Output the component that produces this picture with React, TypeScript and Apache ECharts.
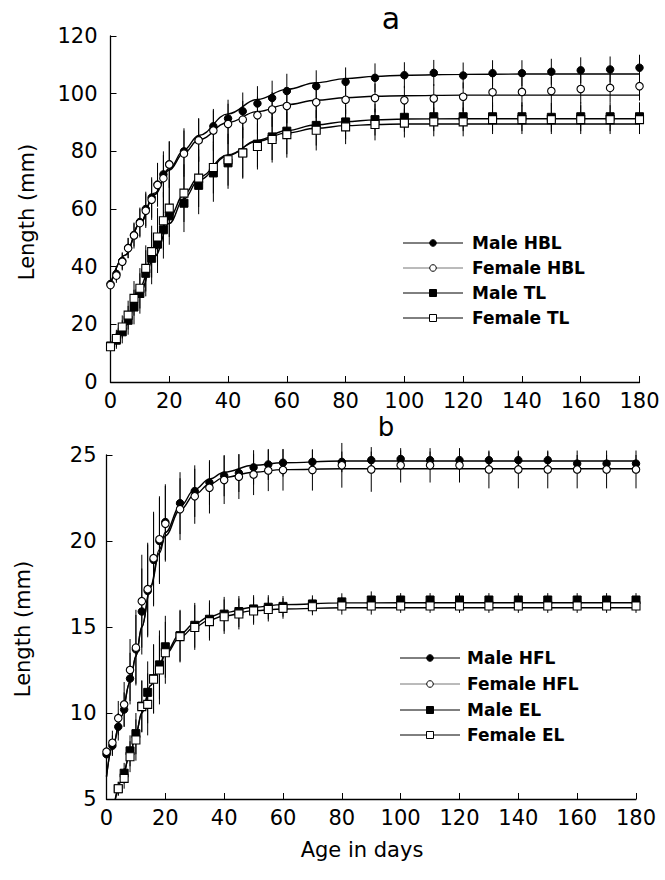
import React, { useEffect, useRef } from "react";
import * as echarts from "echarts";

// ---------- Panel a : head-body length (HBL) and tail length (TL) ----------
const DAYS_A = [0, 2, 4, 6, 8, 10, 12, 14, 16, 18, 20, 25, 30, 35, 40, 45, 50, 55, 60, 70, 80, 90, 100, 110, 120, 130, 140, 150, 160, 170, 180];
const MALE_HBL = [34, 37.5, 42, 46.5, 51, 55.5, 60, 64, 68.5, 72, 75.5, 80, 84, 88.7, 91.4, 93.9, 96.6, 98.5, 100.9, 102.6, 104.1, 105.5, 106.4, 107.2, 106.3, 107.1, 107.1, 107.6, 108.1, 108.4, 109];
const FEMALE_HBL = [33.6, 36.9, 41.7, 46.4, 50.8, 55.1, 59.4, 63.2, 68.3, 70.7, 75.4, 79.2, 83.8, 87.2, 89.5, 91.0, 92.5, 94.5, 95.7, 97.0, 97.9, 98.5, 97.7, 98.3, 98.9, 100.5, 100.6, 100.9, 101.6, 102, 102.6];
const MALE_TL = [12.5, 14.5, 17.4, 21.4, 26, 30.7, 37.7, 42.9, 47.8, 52.8, 57.6, 62, 68.2, 72.5, 76, 79.5, 82.5, 85, 87, 89, 90.2, 91, 91.8, 92, 92, 92, 92, 91.8, 92, 92, 92];
const FEMALE_TL = [12.2, 15.1, 19.1, 23.2, 29, 32.5, 39.4, 45.2, 50.3, 55.9, 60.3, 65.5, 70.7, 74.4, 77.1, 79.4, 81.7, 84.1, 85.8, 87.3, 88.5, 89.3, 89.8, 90.2, 90.2, 91, 91, 91, 91, 91, 91];
const SD_MALE_HBL = [2, 2.5, 3, 3.5, 4, 5, 6, 7, 7.5, 8, 8, 8, 7.5, 6, 6.5, 6.5, 6, 6, 6, 5.5, 5, 5, 4.5, 4.5, 4.5, 4.5, 4.5, 4.5, 4.5, 4.5, 4.5];
const SD_FEMALE_HBL = [2, 2.5, 3, 3.5, 4.5, 5, 6, 7, 7.5, 8, 8, 8, 7.5, 7, 7, 6.5, 6.5, 6, 6, 5.5, 5, 5, 5, 5, 5, 5, 5, 5, 5, 5, 5];
const SD_MALE_TL = [2, 3, 4, 5, 6, 7, 8, 9, 10, 10, 10, 10, 10, 10, 9, 9, 8, 8, 8, 7, 6, 5.5, 5, 5, 5, 5, 5, 5, 5, 5, 5];
const SD_FEMALE_TL = [2, 3, 4, 5, 6, 7, 8, 9, 10, 10, 10, 10, 10, 9, 9, 8.5, 8, 8, 8, 7, 6, 5.5, 5, 5, 5, 5, 5, 5, 5, 5, 5];

const FIT_DAYS_A = [0, 5, 10, 15, 20, 25, 30, 40, 50, 60, 70, 80, 90, 100, 120, 140, 160, 180];
const FIT_MALE_HBL = [34, 44, 55, 65.5, 74, 80.5, 85.5, 93, 98, 101.5, 103.8, 105.2, 106, 106.4, 106.7, 106.8, 106.8, 106.8];
const FIT_FEMALE_HBL = [34, 44, 55, 65, 73.5, 79.5, 84, 90, 93.8, 96.2, 97.7, 98.6, 99.1, 99.3, 99.5, 99.5, 99.5, 99.5];
const FIT_MALE_TL = [12, 19.5, 31, 43.5, 55, 63.5, 70, 78.5, 83.8, 87.2, 89.2, 90.3, 90.9, 91.2, 91.3, 91.3, 91.3, 91.3];
const FIT_FEMALE_TL = [12, 20.5, 33, 46, 57, 65, 71, 78.8, 83.5, 86.4, 88, 88.9, 89.3, 89.5, 89.5, 89.5, 89.5, 89.5];

// ---------- Panel b : hind-foot length (HFL) and ear length (EL) ----------
const DAYS_B_HFL = [0, 2, 4, 6, 8, 10, 12, 14, 16, 18, 20, 25, 30, 35, 40, 45, 50, 55, 60, 70, 80, 90, 100, 110, 120, 130, 140, 150, 160, 170, 180];
const MALE_HFL = [7.6, 8.1, 9.2, 10.2, 12.0, 13.7, 15.9, 17.1, 18.9, 20.0, 21.1, 22.2, 22.9, 23.4, 23.8, 23.95, 24.28, 24.45, 24.55, 24.6, 24.6, 24.7, 24.77, 24.7, 24.7, 24.7, 24.7, 24.7, 24.5, 24.5, 24.5];
const FEMALE_HFL = [7.75, 8.27, 9.7, 10.5, 12.5, 13.8, 16.5, 17.2, 19.0, 20.1, 21.0, 21.85, 22.6, 23.1, 23.55, 23.74, 23.87, 24.1, 24.13, 24.13, 24.4, 24.16, 24.4, 24.4, 24.4, 24.16, 24.16, 24.16, 24.16, 24.16, 24.16];
const SD_MALE_HFL = [0.5, 0.6, 0.8, 1.0, 1.5, 2, 2.5, 2.7, 2.7, 2.5, 2.2, 1.8, 1.5, 1.3, 1.2, 1.1, 1.0, 0.9, 0.8, 0.7, 0.6, 0.5, 0.5, 0.5, 0.5, 0.5, 0.5, 0.5, 0.5, 0.5, 0.5];
const SD_FEMALE_HFL = [0.5, 0.7, 1.0, 1.3, 1.8, 2.2, 2.7, 2.7, 2.7, 2.5, 2.2, 1.8, 1.6, 1.5, 1.4, 1.3, 1.2, 1.2, 1.2, 1.2, 1.3, 1.3, 1.0, 1.0, 1.0, 1.1, 1.1, 1.1, 1.1, 1.1, 1.1];

const DAYS_B_EL = [4, 6, 8, 10, 12, 14, 16, 18, 20, 25, 30, 35, 40, 45, 50, 55, 60, 70, 80, 90, 100, 110, 120, 130, 140, 150, 160, 170, 180];
const MALE_EL = [5.6, 6.5, 7.8, 8.8, 10.4, 11.2, 12.0, 12.8, 13.85, 14.5, 15.1, 15.45, 15.75, 15.9, 16.05, 16.15, 16.2, 16.34, 16.46, 16.57, 16.57, 16.57, 16.57, 16.57, 16.57, 16.57, 16.57, 16.57, 16.57];
const FEMALE_EL = [5.6, 6.2, 7.46, 8.43, 10.37, 10.5, 11.96, 12.5, 13.5, 14.44, 14.97, 15.31, 15.6, 15.76, 15.93, 16.02, 16.08, 16.18, 16.22, 16.22, 16.22, 16.22, 16.22, 16.22, 16.22, 16.22, 16.22, 16.22, 16.22];
const SD_MALE_EL = [0.4, 0.6, 0.9, 1.2, 1.5, 1.8, 2.0, 2.0, 1.8, 1.5, 1.3, 1.1, 1.0, 0.9, 0.8, 0.7, 0.6, 0.5, 0.5, 0.5, 0.4, 0.4, 0.4, 0.4, 0.4, 0.4, 0.4, 0.4, 0.4];
const SD_FEMALE_EL = [0.4, 0.6, 0.9, 1.2, 1.5, 1.8, 2.0, 2.0, 1.8, 1.5, 1.3, 1.1, 1.0, 0.9, 0.8, 0.7, 0.6, 0.5, 0.5, 0.5, 0.4, 0.4, 0.4, 0.4, 0.4, 0.4, 0.4, 0.4, 0.4];

const FIT_DAYS_B_HFL = [0, 2, 5, 8, 10, 12, 15, 18, 20, 25, 30, 35, 40, 50, 60, 80, 100, 180];
const FIT_MALE_HFL = [6.3, 8.0, 9.8, 11.8, 13.3, 15.0, 17.4, 19.5, 20.5, 22.0, 23.0, 23.6, 24.0, 24.4, 24.55, 24.65, 24.65, 24.65];
const FIT_FEMALE_HFL = [6.3, 8.0, 9.8, 11.8, 13.3, 15.0, 17.3, 19.3, 20.3, 21.8, 22.7, 23.3, 23.7, 24.0, 24.15, 24.2, 24.2, 24.2];
const FIT_DAYS_B_EL = [3, 5, 8, 10, 12, 15, 18, 20, 25, 30, 35, 40, 50, 60, 80, 100, 180];
const FIT_MALE_EL = [5.0, 6.0, 7.6, 8.8, 10.0, 11.6, 12.8, 13.5, 14.6, 15.2, 15.6, 15.85, 16.15, 16.3, 16.4, 16.41, 16.41];
const FIT_FEMALE_EL = [5.0, 6.0, 7.6, 8.8, 10.0, 11.6, 12.7, 13.4, 14.4, 15.0, 15.4, 15.65, 15.95, 16.05, 16.12, 16.12, 16.12];

const LEGEND_A = ["Male HBL", "Female HBL", "Male TL", "Female TL"];
const LEGEND_B = ["Male HFL", "Female HFL", "Male EL", "Female EL"];
const X_TICKS = { min: 0, max: 180, interval: 20 };
const Y_TICKS_A = { min: 0, max: 120, interval: 20 };
const Y_TICKS_B = { min: 5, max: 25, interval: 5 };

const FONT = "'DejaVu Sans', 'Liberation Sans', sans-serif";

const pairs = (xs: number[], ys: number[]) => xs.map((x, i) => [x, ys[i]]);
const bars = (xs: number[], ys: number[], sd: number[]) => xs.map((x, i) => [x, ys[i] - sd[i], ys[i] + sd[i]]);

function errorSeries(idx: number, data: number[][]) {
  return {
    type: "custom",
    xAxisIndex: idx,
    yAxisIndex: idx,
    silent: true,
    z: 1,
    data,
    encode: { x: 0, y: [1, 2] },
    renderItem: (params: any, api: any) => {
      const x = api.value(0);
      const p1 = api.coord([x, api.value(1)]);
      const p2 = api.coord([x, api.value(2)]);
      return {
        type: "line",
        shape: { x1: p1[0], y1: p1[1], x2: p2[0], y2: p2[1] },
        style: { stroke: "#000", lineWidth: 1 },
      };
    },
  };
}

function fitSeries(idx: number, data: number[][]) {
  return {
    type: "line",
    xAxisIndex: idx,
    yAxisIndex: idx,
    smooth: 0.4,
    smoothMonotone: "x",
    symbol: "none",
    showSymbol: false,
    silent: true,
    z: 2,
    lineStyle: { color: "#000", width: 1.4 },
    data,
  };
}

function pointSeries(idx: number, name: string, data: number[][], shape: string, filled: boolean, z: number) {
  return {
    type: "scatter",
    name,
    xAxisIndex: idx,
    yAxisIndex: idx,
    symbol: shape,
    symbolSize: shape === "rect" ? 8 : 7.5,
    z,
    silent: true,
    itemStyle: filled
      ? { color: "#000", borderColor: "#000", borderWidth: 1, opacity: 1 }
      : { color: "#fff", borderColor: "#000", borderWidth: 1.1, opacity: 1 },
    data,
  };
}

function legendGraphics(names: string[], rows: number[], x0: number, x1: number, xm: number, xt: number) {
  const shapes = [
    { kind: "circle", filled: true },
    { kind: "circle", filled: false },
    { kind: "rect", filled: true },
    { kind: "rect", filled: false },
  ];
  const els: any[] = [];
  names.forEach((n, i) => {
    const y = rows[i];
    els.push({ type: "line", shape: { x1: x0, y1: y, x2: x1, y2: y }, style: { stroke: i === 1 ? "#777" : "#000", lineWidth: 1 }, z: 10 });
    const fill = shapes[i].filled ? "#000" : "#fff";
    if (shapes[i].kind === "circle") {
      els.push({ type: "circle", shape: { cx: xm, cy: y, r: 3.3 }, style: { fill, stroke: "#000", lineWidth: 1 }, z: 11 });
    } else {
      els.push({ type: "rect", shape: { x: xm - 3.5, y: y - 3.5, width: 7, height: 7 }, style: { fill, stroke: "#000", lineWidth: 1 }, z: 11 });
    }
    els.push({
      type: "text",
      x: xt,
      y,
      style: { text: n, fill: "#000", font: `bold 17px ${FONT}`, textAlign: "left", textVerticalAlign: "middle" },
      z: 11,
    });
  });
  return els;
}

function xAxisDef(idx: number) {
  return {
    type: "value",
    gridIndex: idx,
    ...X_TICKS,
    axisLine: { show: true, lineStyle: { color: "#000", width: 1.3 } },
    axisTick: { show: true, inside: true, length: 6, lineStyle: { color: "#000", width: 1 } },
    axisLabel: { show: true, color: "#000", fontSize: 21, fontFamily: FONT, margin: 8 },
    splitLine: { show: false },
  };
}

function yAxisDef(idx: number, ticks: any, margin: number) {
  return {
    type: "value",
    gridIndex: idx,
    ...ticks,
    axisLine: { show: true, lineStyle: { color: "#000", width: 1.3 } },
    axisTick: { show: true, inside: true, length: 6, lineStyle: { color: "#000", width: 1 } },
    axisLabel: { show: true, color: "#000", fontSize: 21, fontFamily: FONT, margin },
    splitLine: { show: false },
  };
}

export default function App() {
  const ref = useRef<HTMLDivElement>(null);
  useEffect(() => {
    if (!ref.current) return;
    const chart = echarts.init(ref.current, undefined, { renderer: "svg" });
    const option: any = {
      animation: false,
      backgroundColor: "#fff",
      grid: [
        { left: 110.5, top: 36, width: 529, height: 346 },
        { left: 106.5, top: 455, width: 529.5, height: 344 },
      ],
      xAxis: [xAxisDef(0), xAxisDef(1)],
      yAxis: [yAxisDef(0, Y_TICKS_A, 13), yAxisDef(1, Y_TICKS_B, 10)],
      series: [
        errorSeries(0, bars(DAYS_A, MALE_HBL, SD_MALE_HBL)),
        errorSeries(0, bars(DAYS_A, FEMALE_HBL, SD_FEMALE_HBL)),
        errorSeries(0, bars(DAYS_A, MALE_TL, SD_MALE_TL)),
        errorSeries(0, bars(DAYS_A, FEMALE_TL, SD_FEMALE_TL)),
        fitSeries(0, pairs(FIT_DAYS_A, FIT_MALE_HBL)),
        fitSeries(0, pairs(FIT_DAYS_A, FIT_FEMALE_HBL)),
        fitSeries(0, pairs(FIT_DAYS_A, FIT_MALE_TL)),
        fitSeries(0, pairs(FIT_DAYS_A, FIT_FEMALE_TL)),
        pointSeries(0, LEGEND_A[0], pairs(DAYS_A, MALE_HBL), "circle", true, 3),
        pointSeries(0, LEGEND_A[2], pairs(DAYS_A, MALE_TL), "rect", true, 3),
        pointSeries(0, LEGEND_A[1], pairs(DAYS_A, FEMALE_HBL), "circle", false, 4),
        pointSeries(0, LEGEND_A[3], pairs(DAYS_A, FEMALE_TL), "rect", false, 4),

        errorSeries(1, bars(DAYS_B_HFL, MALE_HFL, SD_MALE_HFL)),
        errorSeries(1, bars(DAYS_B_HFL, FEMALE_HFL, SD_FEMALE_HFL)),
        errorSeries(1, bars(DAYS_B_EL, MALE_EL, SD_MALE_EL)),
        errorSeries(1, bars(DAYS_B_EL, FEMALE_EL, SD_FEMALE_EL)),
        fitSeries(1, pairs(FIT_DAYS_B_HFL, FIT_MALE_HFL)),
        fitSeries(1, pairs(FIT_DAYS_B_HFL, FIT_FEMALE_HFL)),
        fitSeries(1, pairs(FIT_DAYS_B_EL, FIT_MALE_EL)),
        fitSeries(1, pairs(FIT_DAYS_B_EL, FIT_FEMALE_EL)),
        pointSeries(1, LEGEND_B[0], pairs(DAYS_B_HFL, MALE_HFL), "circle", true, 3),
        pointSeries(1, LEGEND_B[2], pairs(DAYS_B_EL, MALE_EL), "rect", true, 3),
        pointSeries(1, LEGEND_B[1], pairs(DAYS_B_HFL, FEMALE_HFL), "circle", false, 4),
        pointSeries(1, LEGEND_B[3], pairs(DAYS_B_EL, FEMALE_EL), "rect", false, 4),
      ],
      graphic: [
        { type: "text", x: 391, y: 18, style: { text: "a", fill: "#000", font: `30px ${FONT}`, textAlign: "center", textVerticalAlign: "middle" } },
        { type: "text", x: 386, y: 427, style: { text: "b", fill: "#000", font: `26px ${FONT}`, textAlign: "center", textVerticalAlign: "middle" } },
        { type: "text", x: 27, y: 212, rotation: Math.PI / 2, style: { text: "Length (mm)", fill: "#000", font: `21px ${FONT}`, textAlign: "center", textVerticalAlign: "middle" } },
        { type: "text", x: 23, y: 629, rotation: Math.PI / 2, style: { text: "Length (mm)", fill: "#000", font: `21px ${FONT}`, textAlign: "center", textVerticalAlign: "middle" } },
        { type: "text", x: 362, y: 850, style: { text: "Age in days", fill: "#000", font: `21px ${FONT}`, textAlign: "center", textVerticalAlign: "middle" } },
        ...legendGraphics(LEGEND_A, [243, 268, 293, 318], 403, 463, 433, 472),
        ...legendGraphics(LEGEND_B, [658, 684, 710, 735], 400, 460, 430, 467),
      ],
    };
    chart.setOption(option);
    return () => chart.dispose();
  }, []);
  return (
    <div
      ref={ref}
      style={{ position: "fixed", left: 0, top: 0, width: 665, height: 880, background: "#fff" }}
    />
  );
}
